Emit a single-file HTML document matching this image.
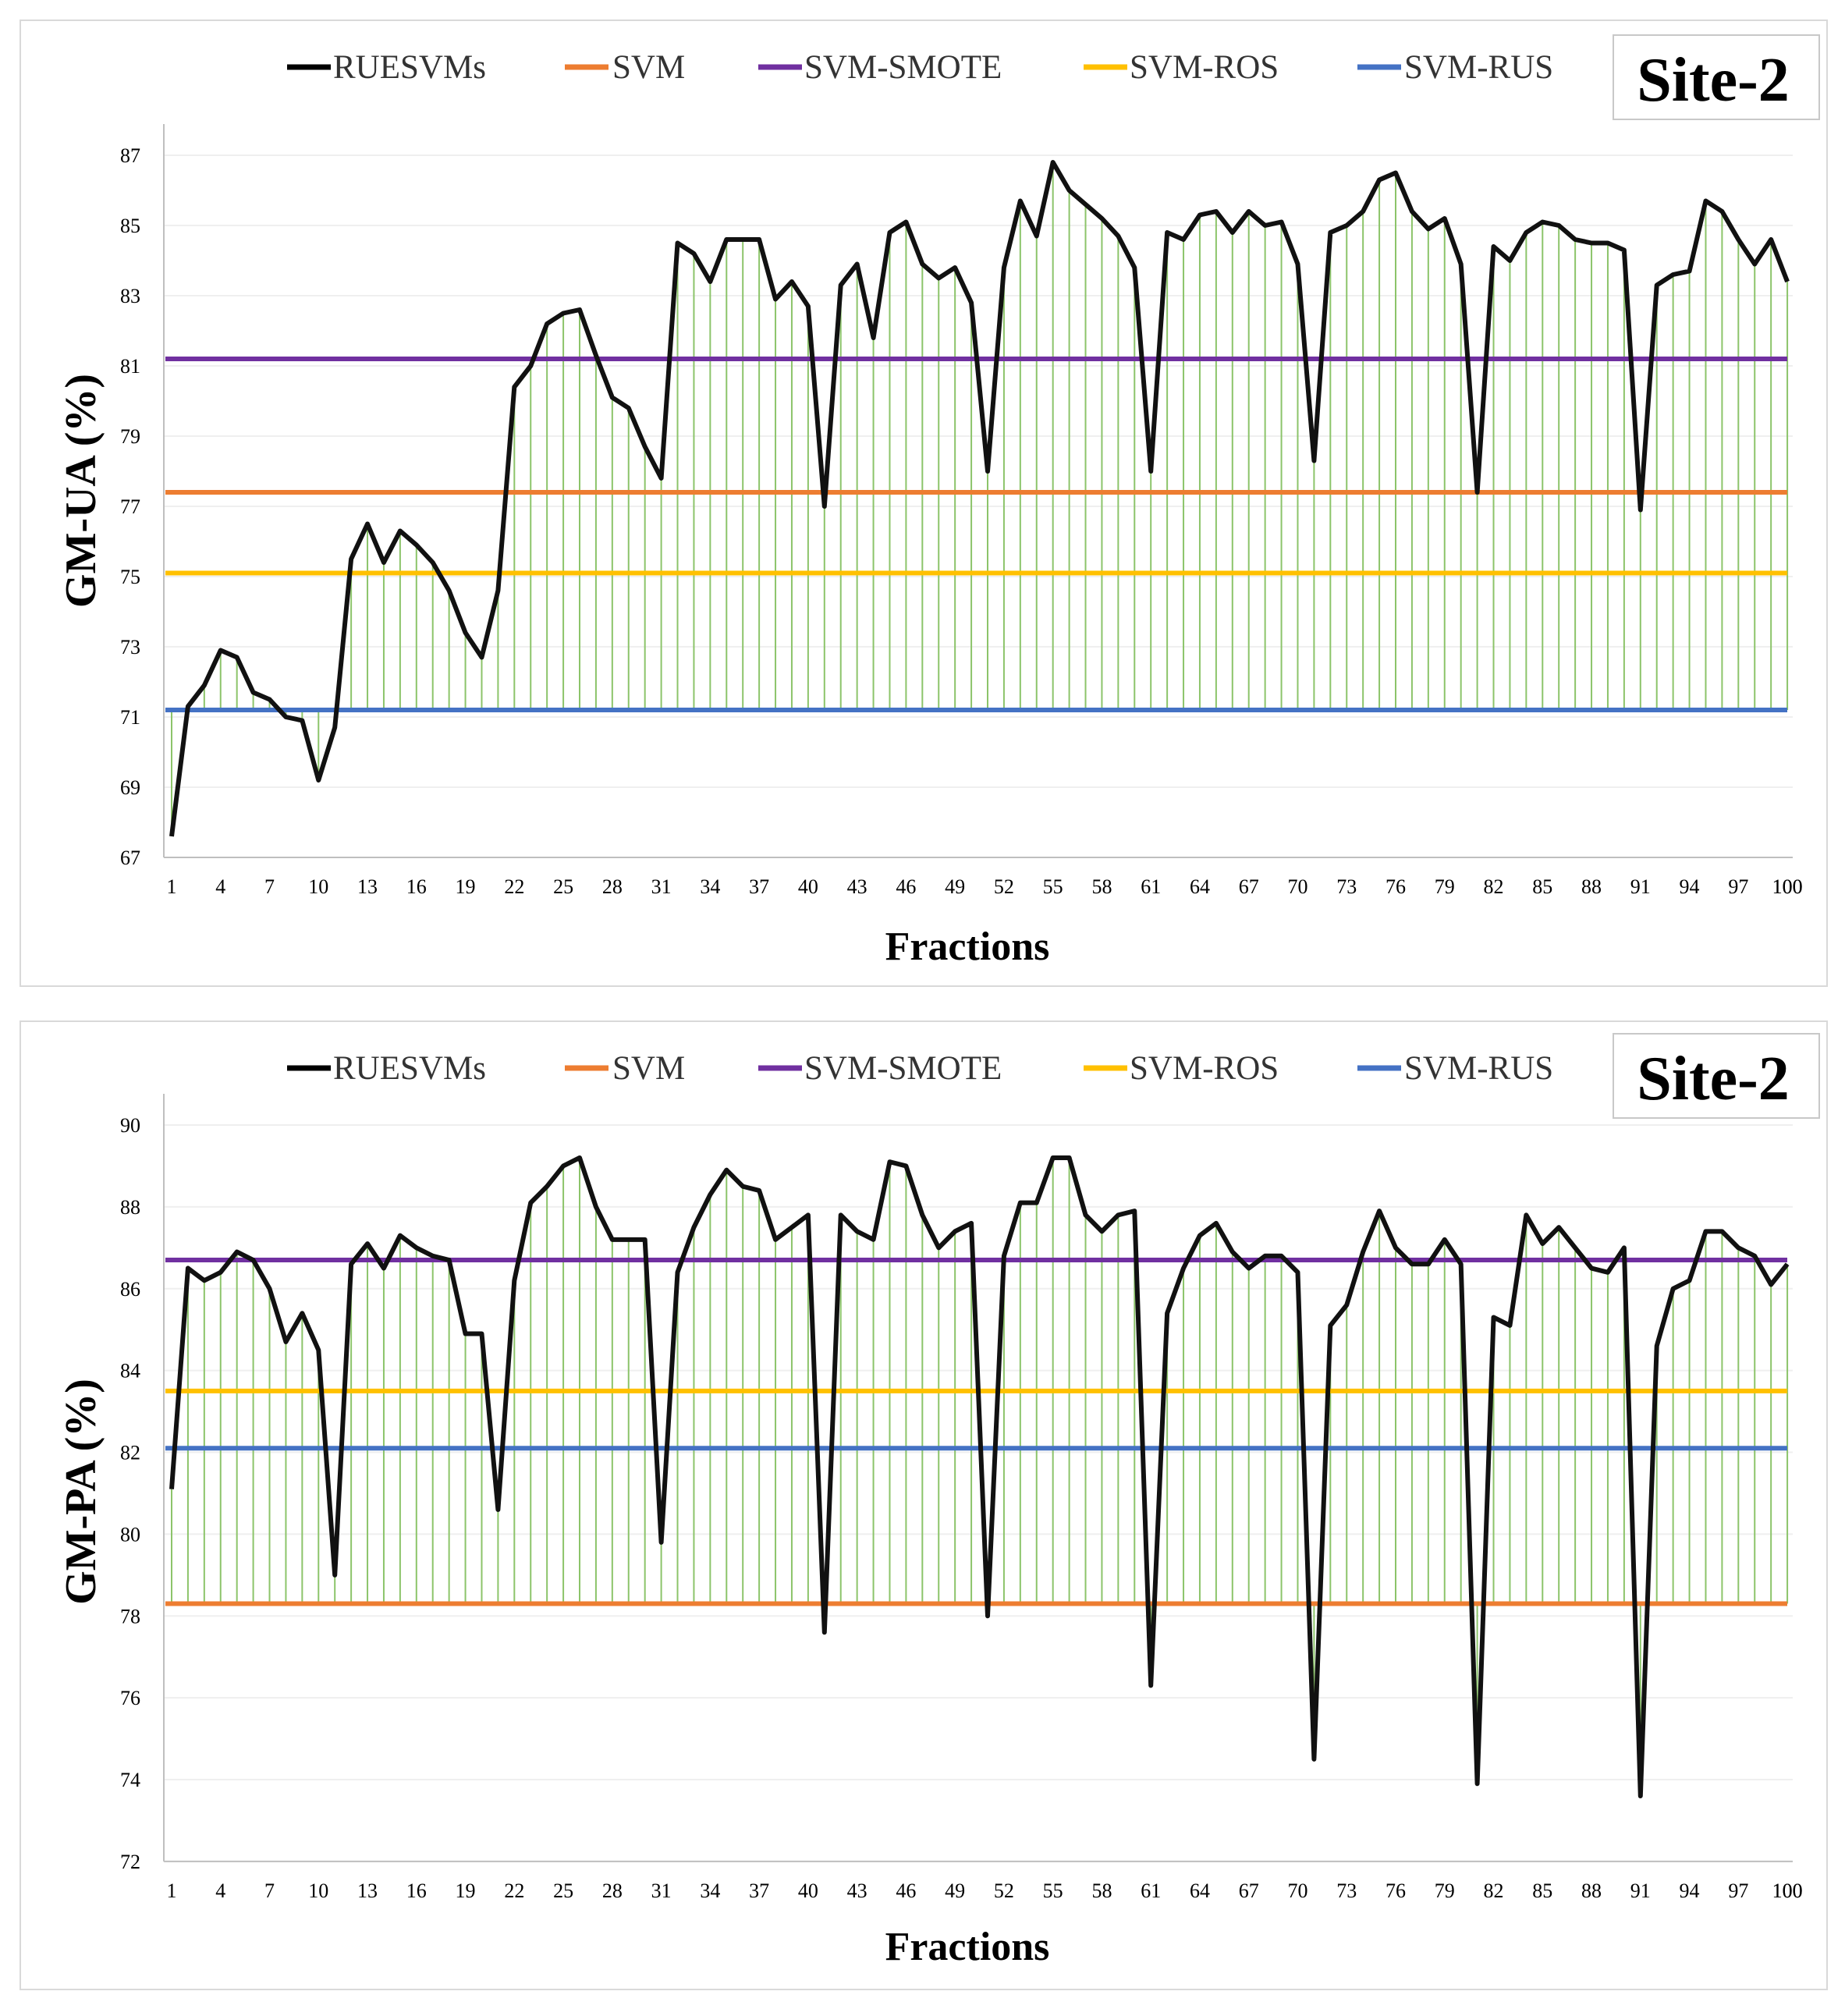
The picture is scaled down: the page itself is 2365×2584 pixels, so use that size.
<!DOCTYPE html>
<html><head><meta charset="utf-8"><style>
html,body{margin:0;padding:0;background:#fff;}
svg text{font-family:"Liberation Serif",serif;}
</style></head><body>
<svg id="s" width="2365" height="2579" xmlns="http://www.w3.org/2000/svg"></svg>
<script>
(function(){
const s=document.getElementById('s');
let h='';
const dtop=[67.6,71.3,71.9,72.9,72.7,71.7,71.5,71.0,70.9,69.2,70.7,75.5,76.5,75.4,76.3,75.9,75.4,74.6,73.4,72.7,74.6,80.4,81.0,82.2,82.5,82.6,81.3,80.1,79.8,78.7,77.8,84.5,84.2,83.4,84.6,84.6,84.6,82.9,83.4,82.7,77.0,83.3,83.9,81.8,84.8,85.1,83.9,83.5,83.8,82.8,78.0,83.8,85.7,84.7,86.8,86.0,85.6,85.2,84.7,83.8,78.0,84.8,84.6,85.3,85.4,84.8,85.4,85.0,85.1,83.9,78.3,84.8,85.0,85.4,86.3,86.5,85.4,84.9,85.2,83.9,77.4,84.4,84.0,84.8,85.1,85.0,84.6,84.5,84.5,84.3,76.9,83.3,83.6,83.7,85.7,85.4,84.6,83.9,84.6,83.4];
const dbot=[81.1,86.5,86.2,86.4,86.9,86.7,86.0,84.7,85.4,84.5,79.0,86.6,87.1,86.5,87.3,87.0,86.8,86.7,84.9,84.9,80.6,86.2,88.1,88.5,89.0,89.2,88.0,87.2,87.2,87.2,79.8,86.4,87.5,88.3,88.9,88.5,88.4,87.2,87.5,87.8,77.6,87.8,87.4,87.2,89.1,89.0,87.8,87.0,87.4,87.6,78.0,86.8,88.1,88.1,89.2,89.2,87.8,87.4,87.8,87.9,76.3,85.4,86.5,87.3,87.6,86.9,86.5,86.8,86.8,86.4,74.5,85.1,85.6,86.9,87.9,87.0,86.6,86.6,87.2,86.6,73.9,85.3,85.1,87.8,87.1,87.5,87.0,86.5,86.4,87.0,73.6,84.6,86.0,86.2,87.4,87.4,87.0,86.8,86.1,86.6];
const X=i=>220+i*20.92;
function chart(o){
  const Y=v=>o.y0+(o.vmax-v)*o.k;
  h+=`<rect x="26" y="${o.by}" width="2316" height="${o.bh}" fill="#fff" stroke="#d9d9d9" stroke-width="2"/>`;
  for(let v=o.vmin;v<=o.vmax;v+=2){h+=`<line x1="210" x2="2298" y1="${Y(v)}" y2="${Y(v)}" stroke="#efefef" stroke-width="2"/>`;
   h+=`<text x="180" y="${Y(v)+9}" font-size="26" text-anchor="end">${v}</text>`;}
  h+=`<line x1="210" x2="210" y1="${Y(o.vmax)-40}" y2="${Y(o.vmin)}" stroke="#bfbfbf" stroke-width="2"/>`;
  h+=`<line x1="210" x2="2298" y1="${Y(o.vmin)}" y2="${Y(o.vmin)}" stroke="#bfbfbf" stroke-width="2"/>`;
  const base=Y(o.base);
  o.d.forEach((v,i)=>{h+=`<line x1="${X(i)}" x2="${X(i)}" y1="${Y(v)}" y2="${base}" stroke="#8cc46a" stroke-width="2"/>`;});
  o.lines.forEach(([v,c])=>{h+=`<line x1="212" x2="2291" y1="${Y(v)}" y2="${Y(v)}" stroke="${c}" stroke-width="6"/>`;});
  h+=`<polyline fill="none" stroke="#111" stroke-width="6" stroke-linejoin="round" points="${o.d.map((v,i)=>X(i)+','+Y(v)).join(' ')}"/>`;
  for(let i=1;i<=100;i+=3){h+=`<text x="${X(i-1)}" y="${Y(o.vmin)+46}" font-size="26" text-anchor="middle">${i}</text>`;}
  h+=`<text x="${X(99)}" y="${Y(o.vmin)+46}" font-size="26" text-anchor="middle">100</text>`;
  h+=`<text x="1240" y="${o.fy}" font-size="52" font-weight="bold" text-anchor="middle">Fractions</text>`;
  h+=`<text transform="translate(122,${o.ty}) rotate(-90)" font-size="56" font-weight="bold" text-anchor="middle">${o.title}</text>`;
  const L=[[368,427,'#000','RUESVMs'],[724,785,'#ed7d31','SVM'],[972,1031,'#7030a0','SVM-SMOTE'],[1389,1448,'#ffc000','SVM-ROS'],[1740,1800,'#4472c4','SVM-RUS']];
  L.forEach(([a,b,c,t])=>{h+=`<line x1="${a}" x2="${a+56}" y1="${o.ly-14}" y2="${o.ly-14}" stroke="${c}" stroke-width="7"/><text x="${b}" y="${o.ly}" font-size="43" fill="#333">${t}</text>`;});
  h+=`<rect x="2068" y="${o.sy}" width="264" height="108" fill="#fff" stroke="#c8c8c8" stroke-width="2"/><text x="2196" y="${o.sy+84}" font-size="80" font-weight="bold" text-anchor="middle">Site-2</text>`;
}
chart({by:26,bh:1238,y0:199,vmax:87,vmin:67,k:45,base:71.2,d:dtop,lines:[[81.2,'#7030a0'],[77.4,'#ed7d31'],[75.1,'#ffc000'],[71.2,'#4472c4']],fy:1230,ty:629,title:'GM-UA (%)',ly:100,sy:45});
chart({by:1309,bh:1241,y0:1442,vmax:90,vmin:72,k:52.44,base:78.3,d:dbot,lines:[[86.7,'#7030a0'],[83.5,'#ffc000'],[82.1,'#4472c4'],[78.3,'#ed7d31']],fy:2512,ty:1912,title:'GM-PA (%)',ly:1383,sy:1325});
s.innerHTML=h;
})();
</script>
</body></html>
